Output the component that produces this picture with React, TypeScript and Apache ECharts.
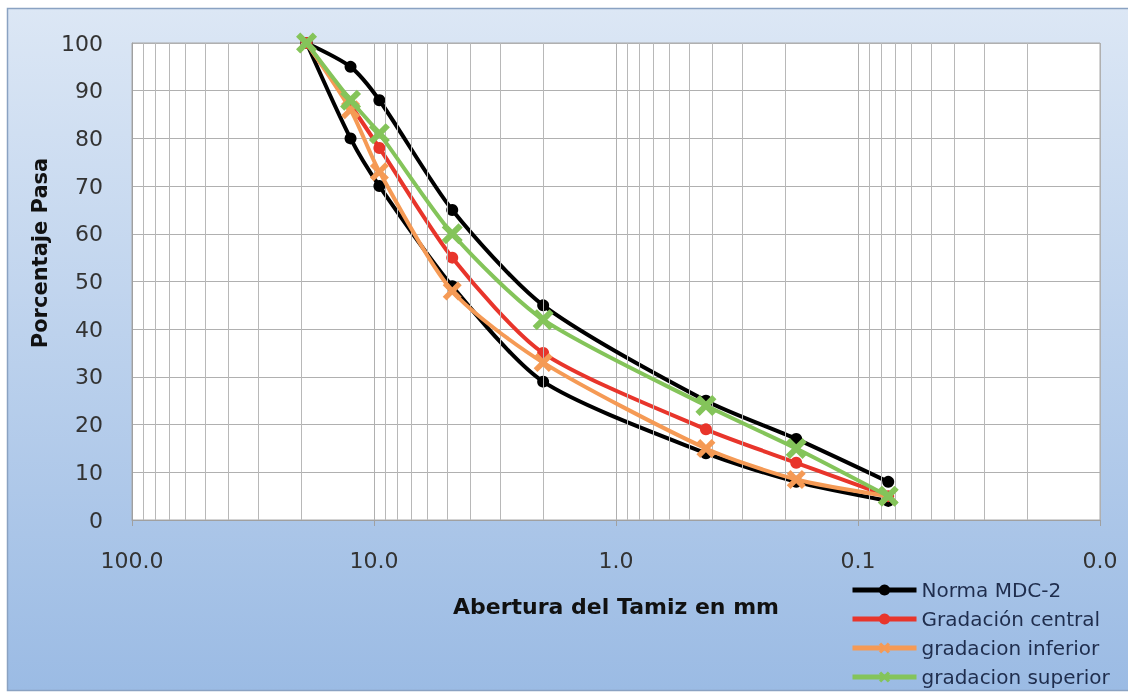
import React, { useEffect, useRef } from "react";
import * as echarts from "echarts";

// Sieve openings (mm)
const sieveSizes = [19, 12.5, 9.5, 4.75, 2.0, 0.425, 0.18, 0.075];
// Percent passing
const normaSuperior = [100, 95, 88, 65, 45, 25, 17, 8];
const normaInferior = [100, 80, 70, 49, 29, 14, 8, 4];
const gradacionCentral = [100, 87, 78, 55, 35, 19, 12, 5];
const gradacionInferior = [100, 86, 73, 48, 33, 15, 8.5, 5];
const gradacionSuperior = [100, 88, 81, 60, 42, 24, 15, 5];

// Minor log grid lines
const minorGrid = [
  0.02, 0.03, 0.04, 0.05, 0.06, 0.07, 0.08, 0.09,
  0.2, 0.3, 0.4, 0.5, 0.6, 0.7, 0.8, 0.9,
  2, 3, 4, 5, 6, 7, 8, 9,
  20, 30, 40, 50, 60, 70, 80, 90,
];

const legendNames = ["Norma MDC-2", "Gradación central", "gradacion inferior", "gradacion superior"];

const X_SYMBOL = "path://M4,0L10,6L16,0L20,4L14,10L20,16L16,20L10,14L4,20L0,16L6,10L0,4Z";

const pairs = (ys: number[]) => sieveSizes.map((x, i) => [x, ys[i]]);

export default function App() {
  const ref = useRef<HTMLDivElement>(null);
  useEffect(() => {
    if (!ref.current) return;
    const chart = echarts.init(ref.current, undefined, { renderer: "svg" });
    const font = "DejaVu Sans";
    const lineSeries = (name: string, ys: number[], color: string, symbol: string, size: number, z: number) => ({
      type: "line",
      name,
      data: pairs(ys),
      smooth: 0.25,
      symbol,
      symbolSize: size,
      z,
      lineStyle: { color, width: 4 },
      itemStyle: { color },
    });
    chart.setOption({
      animation: false,
      graphic: [
        {
          type: "rect",
          z: -10,
          shape: { x: 7.5, y: 8.5, width: 1125, height: 682 },
          style: {
            fill: new echarts.graphic.LinearGradient(0, 0, 0, 1, [
              { offset: 0, color: "#dce7f5" },
              { offset: 1, color: "#9bbbe4" },
            ]),
            stroke: "#8aa2c2",
            lineWidth: 1.5,
          },
        },
        {
          type: "text",
          x: 40,
          y: 253,
          rotation: Math.PI / 2,
          style: {
            text: "Porcentaje Pasa",
            fontFamily: font,
            fontWeight: "bold",
            fontSize: 21,
            fill: "#111",
            align: "center",
            verticalAlign: "middle",
          },
        },
      ],
      grid: {
        left: 132,
        right: 28,
        top: 43,
        bottom: 172,
        show: true,
        backgroundColor: "#ffffff",
        borderColor: "#a8a8a8",
        borderWidth: 1,
      },
      legend: {
        data: legendNames,
        orient: "vertical",
        left: 845,
        top: 575,
        itemWidth: 64,
        itemHeight: 14,
        itemGap: 9,
        lineStyle: { width: 5 },
        textStyle: { fontFamily: font, fontSize: 20, color: "#1f2d4d" },
      },
      xAxis: {
        type: "log",
        logBase: 10,
        min: 0.01,
        max: 100,
        inverse: true,
        name: "Abertura del Tamiz en mm",
        nameLocation: "middle",
        nameGap: 75,
        nameTextStyle: { fontFamily: font, fontWeight: "bold", fontSize: 22, color: "#111" },
        axisLine: { lineStyle: { color: "#a0a0a0" } },
        axisTick: { show: true, length: 6, lineStyle: { color: "#a0a0a0" } },
        axisLabel: {
          formatter: (v: number) => Number(v).toFixed(1),
          fontFamily: font,
          fontSize: 22,
          color: "#333",
          margin: 29,
        },
        splitLine: { show: true, lineStyle: { color: "#b0b0b0", width: 1 } },
      },
      yAxis: {
        type: "value",
        min: 0,
        max: 100,
        interval: 10,
        axisLine: { show: true, lineStyle: { color: "#a0a0a0" } },
        axisTick: { show: false },
        axisLabel: { fontFamily: font, fontSize: 22, color: "#333", margin: 29 },
        splitLine: { show: true, lineStyle: { color: "#b0b0b0", width: 1 } },
      },
      series: [
        {
          type: "line",
          name: "minor-grid",
          data: [],
          z: 1,
          silent: true,
          markLine: {
            silent: true,
            symbol: ["none", "none"],
            label: { show: false },
            lineStyle: { color: "#b8b8b8", width: 1, type: "solid" },
            data: minorGrid.map((v) => ({ xAxis: v })),
          },
        },
        lineSeries("Norma MDC-2", normaSuperior, "#000000", "circle", 12, 3),
        lineSeries("Norma MDC-2", normaInferior, "#000000", "circle", 12, 3),
        lineSeries("Gradación central", gradacionCentral, "#e8352b", "circle", 12, 4),
        lineSeries("gradacion inferior", gradacionInferior, "#f59a55", X_SYMBOL, 19, 5),
        lineSeries("gradacion superior", gradacionSuperior, "#84c45a", X_SYMBOL, 21, 6),
      ],
    });
    return () => chart.dispose();
  }, []);
  return (
    <div
      ref={ref}
      style={{ position: "fixed", left: 0, top: 0, width: 1128, height: 692 }}
    />
  );
}
